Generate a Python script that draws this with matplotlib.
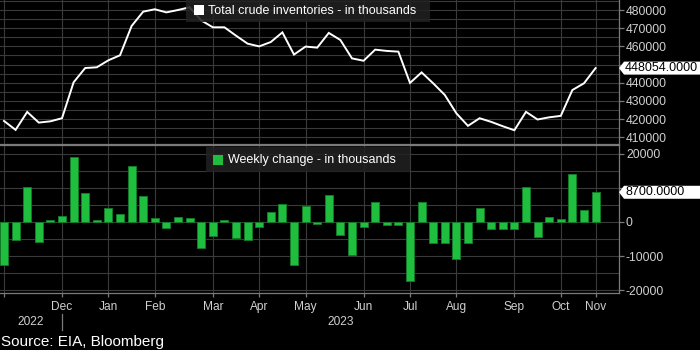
import matplotlib
matplotlib.use("Agg")
import matplotlib.pyplot as plt
from matplotlib.patches import Rectangle, Polygon
from matplotlib.lines import Line2D
from matplotlib.ticker import MultipleLocator

plt.rcParams['font.family'] = ['Liberation Sans', 'DejaVu Sans']

# Weekly US crude inventories (thousands of barrels), Nov 2022 - Nov 2023
inventory = [419000, 414100, 423950, 418100, 418800, 420500, 440250, 448100, 448500, 452350,
             455100, 471200, 479100, 480400, 478700, 480000, 481500, 474300, 470500, 470500,
             465900, 461500, 460000, 462400, 467700, 455500, 459900, 459300, 467400, 463500,
             453400, 452100, 458200, 457500, 457100, 439900, 445700, 439700, 433300, 423200,
             416300, 420500, 418500, 416100, 413900, 424000, 419800, 421000, 421800, 436000,
             439700, 448054]

weekly_change = [-12700, -5370, 10150, -5950, 680, 1660, 18930, 8390, 590, 4100,
                 2340, 16290, 7610, 1070, -1850, 1460, 1070, -7710, -4000, 590,
                 -4780, -5170, -1460, 2830, 5170, -12590, 4590, -680, 7900, -3900,
                 -9760, -1560, 5850, -780, -780, -17170, 5760, -6050, -6240, -10700,
                 -6240, 4100, -2150, -2150, -2150, 10240, -4490, 1460, 780, 14050,
                 3610, 8700]

month_ticks = [0, 5, 9, 13, 18, 22, 26, 31, 35, 39, 44, 48, 51]
month_labels = ['', 'Dec', 'Jan', 'Feb', 'Mar', 'Apr', 'May', 'Jun', 'Jul', 'Aug', 'Sep', 'Oct', 'Nov']
year_labels = ['2022', '2023']
year_break = 5

inv_ticks = [410000, 420000, 430000, 440000, 450000, 460000, 470000, 480000]
chg_ticks = [-20000, -10000, 0, 10000, 20000]

W, H = 700, 350
BG = 'black'
GRID = '#3a3a3a'
SPINE = '#7a7a7a'
TXT = '#d0d0d0'
GREEN = '#1fbe3e'
GREEN_EDGE = '#137a28'
TAG_HALF = 6.5  # half height of the last-value tag, px

x = list(range(len(inventory)))
x_lo, x_hi = -0.345, 53.02

fig = plt.figure(figsize=(W / 100, H / 100), dpi=100, facecolor=BG)


def fx(px):
    return px / W


def fy(py):
    return 1 - py / H


ax1 = fig.add_axes([0, fy(144), fx(619), 144 / H])
ax2 = fig.add_axes([0, fy(293), fx(619), (293 - 145) / H])
ax1.set_ylim(406330, 485500)
ax2.set_ylim(-20785, 22540)


def data_py(ax, v):
    return H - ax.transData.transform((0, v))[1]


for ax, ticks, last in ((ax1, inv_ticks, inventory[-1]), (ax2, chg_ticks, weekly_change[-1])):
    ax.set_facecolor(BG)
    ax.set_xlim(x_lo, x_hi)
    ax.set_xticks(month_ticks)
    ax.yaxis.tick_right()
    # labels sitting under the last-value tag are covered by it
    tag_y = data_py(ax, last)
    labels = ['' if abs(data_py(ax, t) - tag_y) < TAG_HALF + 4 else f"{t:.0f}" for t in ticks]
    ax.set_yticks(ticks)
    ax.set_yticklabels(labels)
    ax.yaxis.set_minor_locator(MultipleLocator(5000))
    ax.grid(True, which='both', axis='y', color=GRID, lw=0.8)
    ax.grid(True, which='major', axis='x', color=GRID, lw=0.8)
    ax.set_axisbelow(True)
    ax.spines['left'].set_visible(False)
    for s in ('right', 'top', 'bottom'):
        ax.spines[s].set_color(SPINE)
        ax.spines[s].set_linewidth(0.9)
    ax.tick_params(axis='y', which='major', direction='out', length=3.5, width=0.9,
                   color=SPINE, labelcolor=TXT, labelsize=8.8, pad=1.5)
    ax.tick_params(axis='y', which='minor', length=0)

ax1.spines['top'].set_visible(False)
ax1.tick_params(axis='x', length=0, labelbottom=False)
ax2.tick_params(axis='x', direction='out', length=3, width=0.9, color=SPINE,
                labelcolor=TXT, labelsize=8.6, pad=3)
ax2.set_xticklabels(month_labels)

# Upper panel: inventory level
ax1.plot(x, inventory, color='white', lw=1.4, solid_joinstyle='miter', zorder=3)

# Lower panel: weekly change
ax2.bar(x, weekly_change, width=0.69, color=GREEN, edgecolor=GREEN_EDGE, lw=0.7, zorder=3)


def value_tag(ax, v, text):
    cy = data_py(ax, v)
    h = TAG_HALF
    pts = [(619, cy), (624, cy - h), (W, cy - h), (W, cy + h), (624, cy + h)]
    fig.patches.append(Polygon([(fx(a), fy(b)) for a, b in pts], closed=True,
                               transform=fig.transFigure, facecolor='white',
                               edgecolor='none', zorder=10))
    fig.text(fx(625), fy(cy), text, color='black', fontsize=9, va='center',
             ha='left', zorder=11)


value_tag(ax1, inventory[-1], f"{inventory[-1]:.4f}")
value_tag(ax2, weekly_change[-1], f"{weekly_change[-1]:.4f}")


def legend_box(x0, y0, x1, y1, sq, color, text, tx):
    fig.patches.append(Rectangle((fx(x0), fy(y1)), fx(x1 - x0), (y1 - y0) / H,
                                 transform=fig.transFigure,
                                 facecolor=(0.13, 0.13, 0.13, 0.88),
                                 edgecolor='none', zorder=8))
    sx0, sy0, sx1, sy1 = sq
    fig.patches.append(Rectangle((fx(sx0), fy(sy1)), fx(sx1 - sx0), (sy1 - sy0) / H,
                                 transform=fig.transFigure, facecolor=color,
                                 edgecolor='none', zorder=9))
    fig.text(fx(tx), fy((y0 + y1) / 2), text, color='white', fontsize=9,
             va='center', ha='left', zorder=9)


legend_box(186, 0, 430, 21.7, (194, 5, 204, 15), 'white',
           'Total crude inventories - in thousands', 208)
legend_box(206, 146.7, 410, 172.3, (213, 155, 222.5, 164.5), GREEN,
           'Weekly change - in thousands', 227.5)

# Year row beneath the month labels
px_per_idx = 619 / (x_hi - x_lo)
sep_px = (year_break - x_lo) * px_per_idx
fig.text(fx(sep_px / 2), fy(322), year_labels[0], color=TXT, fontsize=8.6,
         ha='center', va='center')
fig.text(fx((sep_px + 619) / 2), fy(322), year_labels[1], color=TXT, fontsize=8.6,
         ha='center', va='center')
fig.lines.append(Line2D([fx(sep_px), fx(sep_px)], [fy(314), fy(330)],
                        transform=fig.transFigure, color=SPINE, lw=0.9))

fig.text(fx(1), fy(342), 'Source: EIA, Bloomberg', color='white', fontsize=11,
         ha='left', va='center')

fig.savefig('out.png', dpi=100, facecolor=BG)
